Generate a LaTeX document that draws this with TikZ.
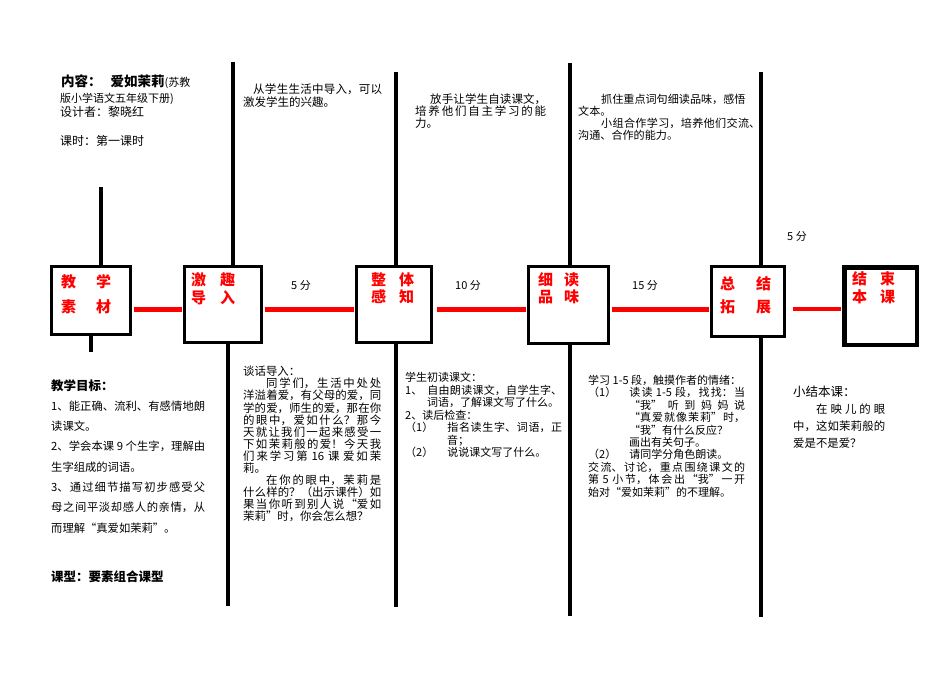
\documentclass[tikz,border=0pt]{standalone}
\usepackage{fontspec}
\setmainfont{Noto Sans CJK SC}
\XeTeXlinebreaklocale "zh"
\XeTeXlinebreakskip=0pt plus 2pt
\usetikzlibrary{positioning}

\begin{document}
\begin{tikzpicture}[x=1pt, y=-1pt,
  stage/.style={draw, line width=3pt, fill=white, inner sep=0pt},
  stagetag/.style={text=red, anchor=north west, inner sep=0pt, align=left,
                   font=\bfseries\fontsize{15}{#1}\selectfont},
  pole/.style={line width=3.5pt},
  rail/.style={red, line width=5pt, shorten <=1.5pt, shorten >=1.5pt},
  blurb/.style={anchor=north west, inner sep=0pt, align=justify, text width=#1},
  plain/.style={anchor=north west, inner sep=0pt, align=left},
  mins/.style={inner sep=0pt, font=\fontsize{11}{13}\selectfont}]
\useasboundingbox (0,0) rectangle (950,672);

% stages
\node[stage, minimum width=79pt, minimum height=68pt] (b1) at (91,300.5) {};
\node[stage, minimum width=77pt, minimum height=76pt] (b2) at (223,304.5) {};
\node[stage, minimum width=75pt, minimum height=76pt] (b3) at (394,304.5) {};
\node[stage, minimum width=80pt, minimum height=77pt] (b4) at (568.5,305) {};
\node[stage, minimum width=73pt, minimum height=70pt] (b5) at (748,301.5) {};
\node[stage, line width=4.5pt, minimum width=72.5pt, minimum height=77.5pt] (b6) at (880.5,306) {};

\node[stagetag=25] (t1) at ([shift={(11,9)}]b1.north west) {教\hspace{20pt}学\\素\hspace{20pt}材};
\node[stagetag=18] (t2) at ([shift={(8,7)}]b2.north west) {激\hspace{14pt}趣\\导\hspace{14pt}入};
\node[stagetag=17] (t3) at ([shift={(16,7)}]b3.north west) {整\hspace{13pt}体\\感\hspace{13pt}知};
\node[stagetag=17] (t4) at ([shift={(11,7)}]b4.north west) {细\hspace{11pt}读\\品\hspace{11pt}味};
\node[stagetag=23] (t5) at ([shift={(10,11)}]b5.north west) {总\hspace{21pt}结\\拓\hspace{21pt}展};
\node[stagetag=18] (t6) at ([shift={(10,6)}]b6.north west) {结\hspace{13pt}束\\本\hspace{13pt}课};

% red links
\coordinate (lane) at (0,309);
\draw[rail] (b1.east |- lane) -- (b2.west |- lane);
\draw[rail] (b2.east |- lane) -- (b3.west |- lane);
\draw[rail, shorten <=4pt] (b3.east |- lane) -- (b4.west |- lane);
\draw[rail] (b4.east |- lane) -- (b5.west |- lane);
\draw[rail, line width=4pt, shorten <=7pt] (b5.east |- lane) -- (b6.west |- lane);

\node[mins] (m1) at (301,285) {5 分};
\node[mins] (m2) at (468,285) {10 分};
\node[mins] (m3) at (645,285) {15 分};
\node[mins] (m4) at (797,236) {5 分};

% black poles
\coordinate (p1) at (101,187);  \coordinate (q1) at (91,352);
\coordinate (p2) at (233,62);   \coordinate (q2) at (228,606);
\coordinate (p3) at (396,72);   \coordinate (q3) at (396,607);
\coordinate (p4) at (570,63);   \coordinate (q4) at (570,616);
\coordinate (p5) at (761,72);   \coordinate (q5) at (761,617);
\draw[pole] (p1) -- (p1 |- b1.north); \draw[pole] (q1 |- b1.south) -- (q1);
\draw[pole] (p2) -- (p2 |- b2.north); \draw[pole] (q2 |- b2.south) -- (q2);
\draw[pole] (p3) -- (p3 |- b3.north); \draw[pole] (q3 |- b3.south) -- (q3);
\draw[pole] (p4) -- (p4 |- b4.north); \draw[pole] (q4 |- b4.south) -- (q4);
\draw[pole] (p5) -- (p5 |- b5.north); \draw[pole] (q5 |- b5.south) -- (q5);

% heading
\node[plain, font=\bfseries\fontsize{13.5}{15}\selectfont] (head) at (61,75) {内容：\hspace{9pt}爱如茉莉{\mdseries\fontsize{11}{13}\selectfont(苏教}};
\node[plain, font=\fontsize{11}{13}\selectfont] (sub) at (60,92.5) {版小学语文五年级下册)};
\node[plain, font=\fontsize{12}{14}\selectfont] (author) at (60,106) {设计者：黎晓红};
\node[plain, font=\fontsize{12}{14}\selectfont] (period) at (60,135) {课时：第一课时};

% aims of each stage
\node[blurb=139pt, font=\fontsize{11.5}{12.8}\selectfont] (aim2) at (243,84) {\hspace*{10pt}从学生生活中导入，可以\linebreak 激发学生的兴趣。};
\node[blurb=131pt, font=\fontsize{11.5}{12}\selectfont] (aim3) at (415,94) {\hspace*{15pt}放手让学生自读课文，\linebreak 培养他们自主学习的能\linebreak 力。};
\node[blurb=182pt, font=\fontsize{11.1}{12}\selectfont] (aim4) at (578,94) {\hspace*{23pt}抓住重点词句细读品味，感悟\\文本。\\\hspace*{23pt}小组合作学习，培养他们交流、\linebreak 沟通、合作的能力。};

% goals
\node[blurb=154pt, font=\fontsize{11.3}{20.3}\selectfont] (goals) at (51,379) {{\bfseries\fontsize{12.5}{20.3}\selectfont 教学目标：}\\1、能正确、流利、有感情地朗\linebreak 读课文。\\2、学会本课 9 个生字，理解由\linebreak 生字组成的词语。\\3、通过细节描写初步感受父\linebreak 母之间平淡却感人的亲情，从\linebreak 而理解“真爱如茉莉”。};
\node[plain, font=\bfseries\fontsize{12.5}{14}\selectfont] (kind) at (51,571) {课型：要素组合课型};

% activities of each stage
\node[blurb=138pt, font=\fontsize{11.4}{12.1}\selectfont] (act2) at (243,366) {谈话导入：\\\hspace*{23pt}同学们，生活中处处\linebreak 洋溢着爱，有父母的爱，同\linebreak 学的爱，师生的爱，那在你\linebreak 的眼中，爱如什么？那今\linebreak 天就让我们一起来感受一\linebreak 下如茉莉般的爱！今天我\linebreak 们来学习第 16 课 爱如茉\linebreak 莉。\\\hspace*{23pt}在你的眼中，茉莉是\linebreak 什么样的？（出示课件）如\linebreak 果当你听到别人说“爱如\linebreak 茉莉”时，你会怎么想？};
\node[blurb=157pt, font=\fontsize{11}{12.5}\selectfont] (act3) at (405,372) {学生初读课文：\\1、\hspace{5pt}自由朗读课文，自学生字、\linebreak\hspace*{22pt}词语，了解课文写了什么。\\2、读后检查：\\（1）\hspace{14pt}指名读生字、词语，正\linebreak\hspace*{42pt}音；\\（2）\hspace{14pt}说说课文写了什么。};
\node[blurb=157pt, font=\fontsize{11}{12.4}\selectfont] (act4) at (588,375) {学习 1-5 段，触摸作者的情绪：\\（1）\hspace{13pt}读读 1-5 段，找找：当\linebreak\hspace*{41pt}“我”听到妈妈说\linebreak\hspace*{41pt}“真爱就像茉莉”时，\linebreak\hspace*{41pt}“我”有什么反应？\\\hspace*{41pt}画出有关句子。\\（2）\hspace{13pt}请同学分角色朗读。\\交流、讨论，重点围绕课文的\linebreak 第 5 小节，体会出“我”一开\linebreak 始对“爱如茉莉”的不理解。};
\node[blurb=92pt, font=\fontsize{11.4}{17}\selectfont] (act5) at (793,386) {{\fontsize{12.5}{17}\selectfont 小结本课：}\\\hspace*{23pt}在映儿的眼\linebreak 中，这如茉莉般的\linebreak 爱是不是爱？};
\end{tikzpicture}
\end{document}
